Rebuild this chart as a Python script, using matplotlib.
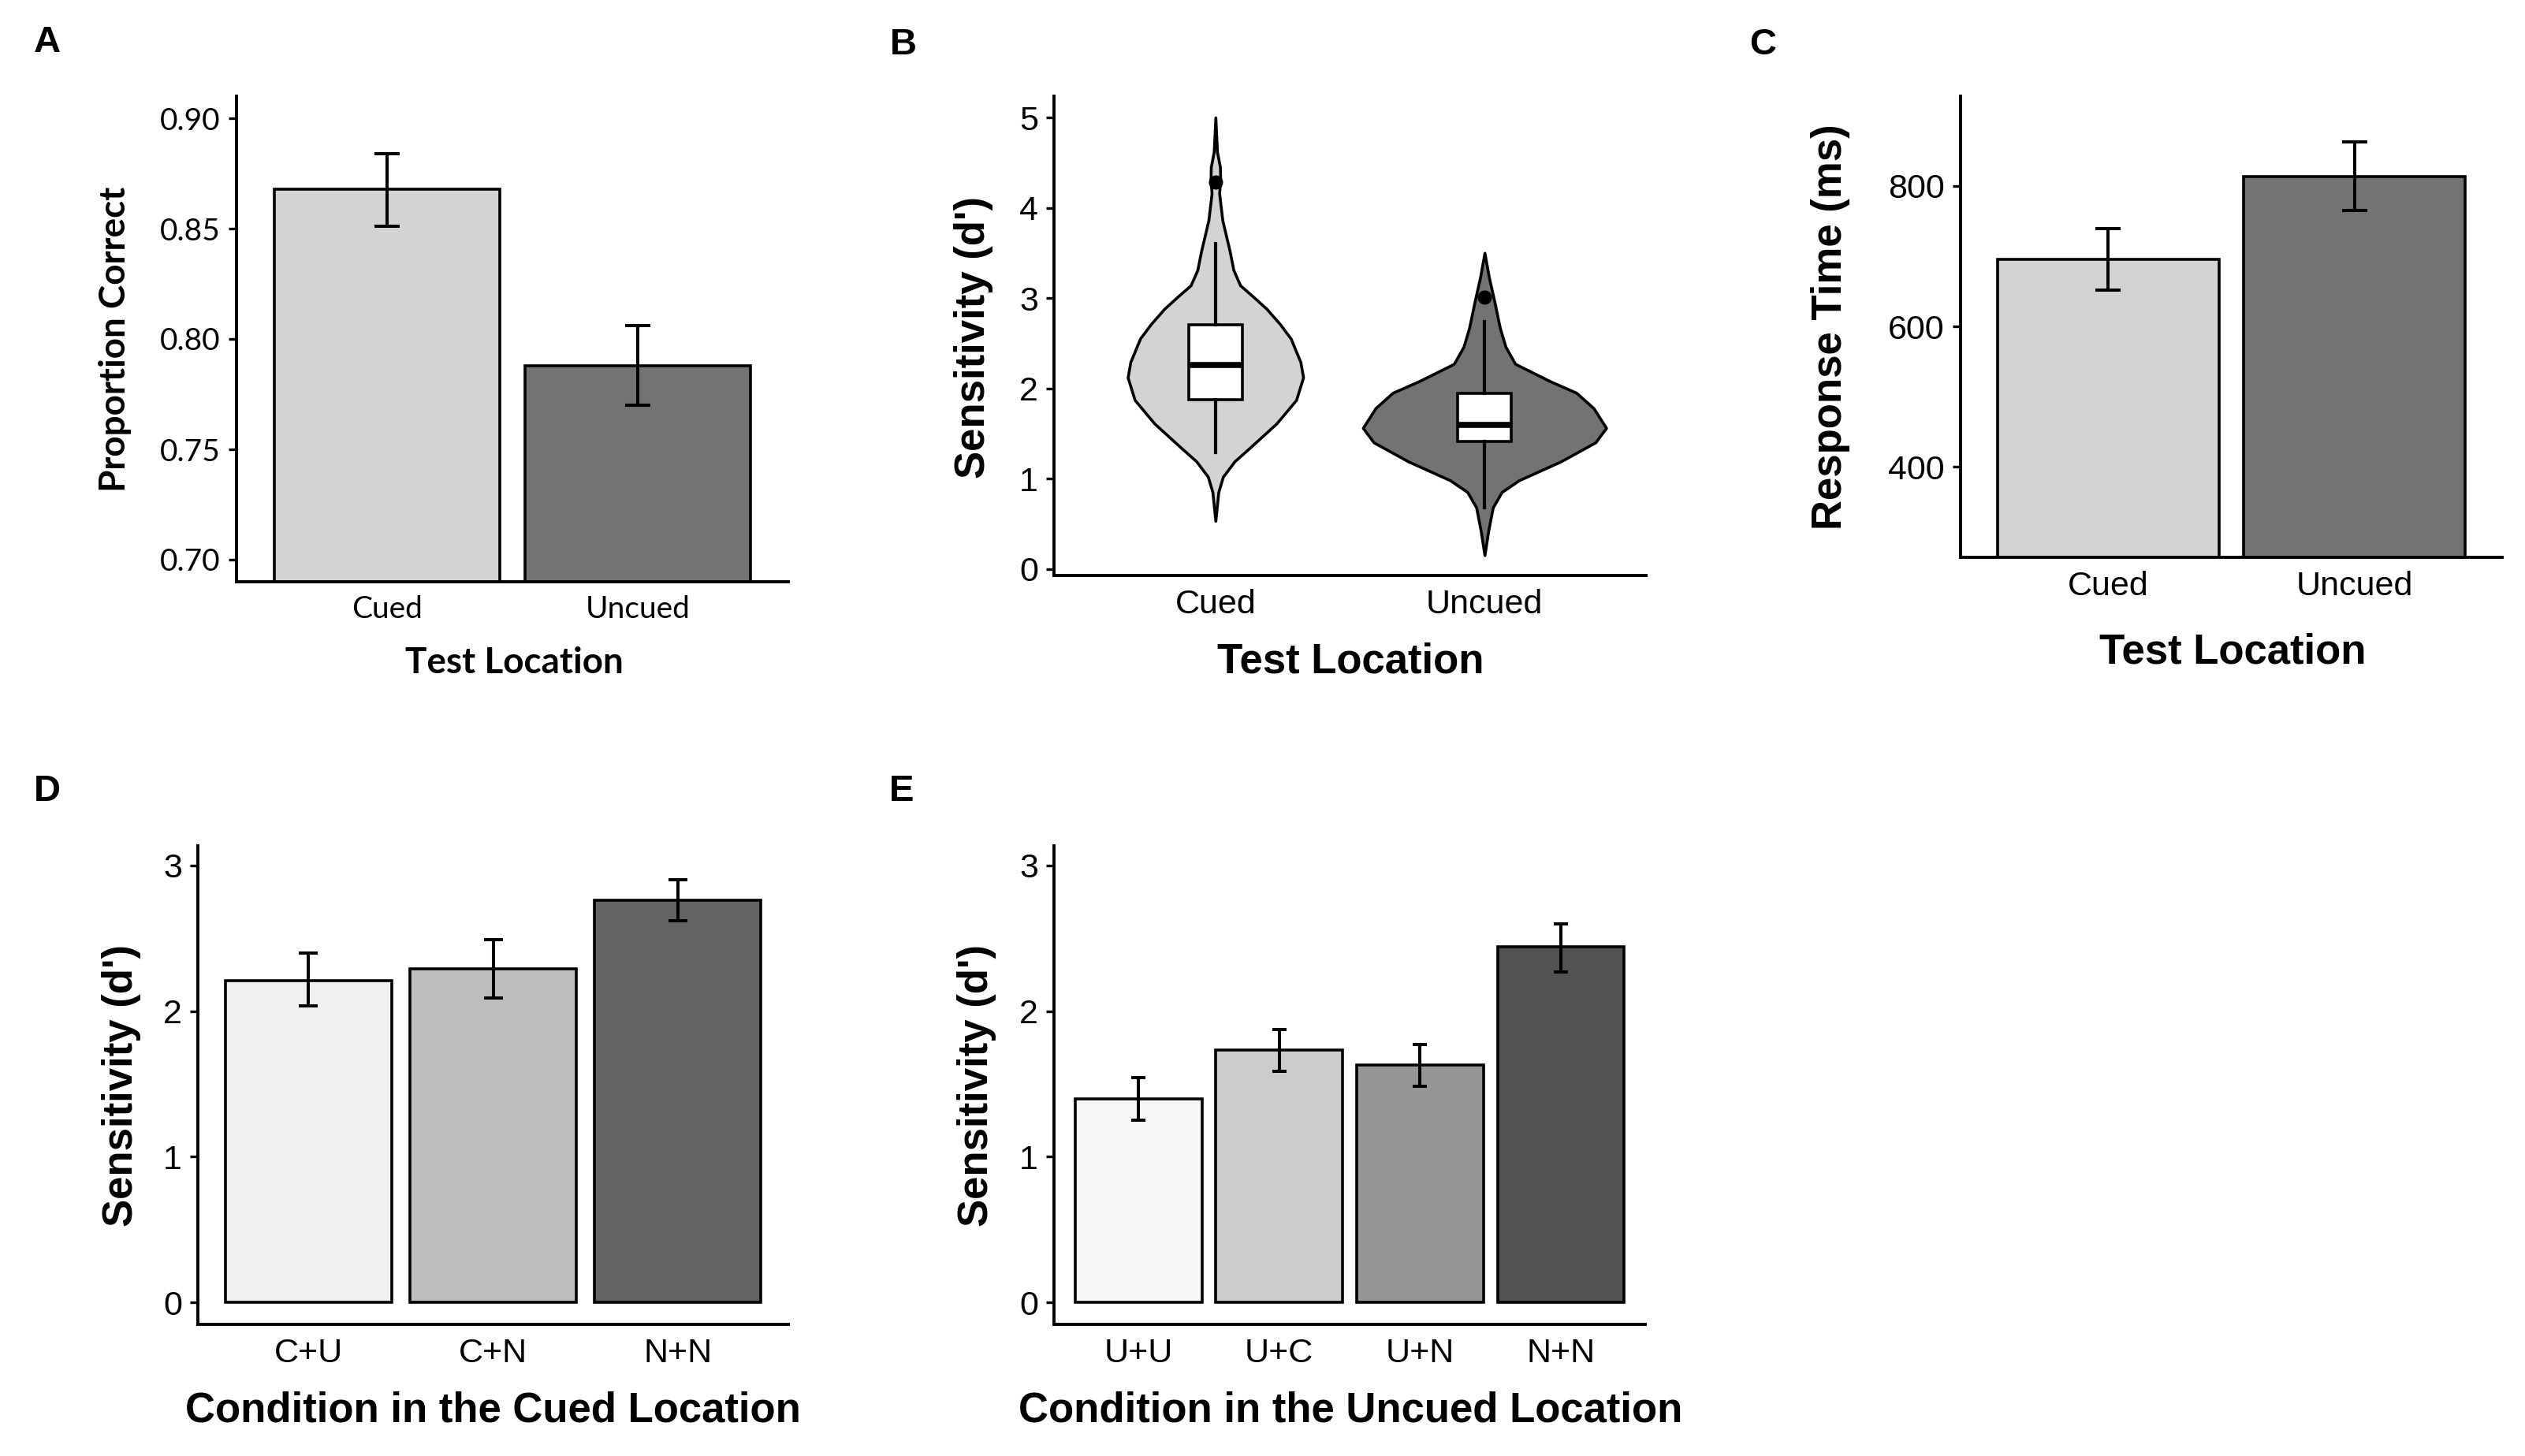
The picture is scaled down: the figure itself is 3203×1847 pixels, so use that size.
import numpy as np
import matplotlib.pyplot as plt

plt.rcParams['font.family'] = ['Liberation Sans', 'DejaVu Sans']

# A: proportion correct by test location
loc_labels = ['Cued', 'Uncued']
acc_mean = [0.868, 0.788]
acc_lo = [0.851, 0.770]
acc_hi = [0.884, 0.806]

# C: response time (ms)
rt_mean = [696, 814]
rt_lo = [652, 765]
rt_hi = [739, 863]

# B: violin outlines (level in d', half width in x units)
cued_vio_y = [0.53, 0.85, 1.02, 1.19, 1.36, 1.61, 1.87, 2.12, 2.29, 2.55, 2.71,
              2.88, 3.01, 3.14, 3.31, 3.52, 3.86, 4.16, 4.30, 4.45, 4.62, 5.00]
cued_vio_w = [0.0, 0.011, 0.028, 0.071, 0.135, 0.227, 0.30, 0.326, 0.316, 0.28, 0.24,
              0.19, 0.142, 0.092, 0.067, 0.053, 0.026, 0.014, 0.018, 0.017, 0.006, 0.0]
uncued_vio_y = [0.15, 0.42, 0.68, 0.85, 0.98, 1.19, 1.40, 1.56, 1.78, 1.95, 2.08,
                2.27, 2.46, 2.67, 2.97, 3.22, 3.50]
uncued_vio_w = [0.0, 0.014, 0.031, 0.064, 0.128, 0.284, 0.412, 0.452, 0.405, 0.341, 0.242,
                0.114, 0.078, 0.057, 0.036, 0.017, 0.0]

# B: box plot summaries
cued_box = dict(whislo=1.29, q1=1.875, med=2.256, q3=2.706, whishi=3.605, fliers=[4.28])
uncued_box = dict(whislo=0.68, q1=1.41, med=1.59, q3=1.94, whishi=2.736, fliers=[3.01])

# D: sensitivity by condition in the cued location
cued_labels = ['C+U', 'C+N', 'N+N']
cued_mean = [2.21, 2.29, 2.76]
cued_lo = [2.035, 2.09, 2.62]
cued_hi = [2.40, 2.49, 2.90]

# E: sensitivity by condition in the uncued location
uncued_labels = ['U+U', 'U+C', 'U+N', 'N+N']
uncued_mean = [1.40, 1.73, 1.63, 2.44]
uncued_lo = [1.25, 1.587, 1.485, 2.27]
uncued_hi = [1.545, 1.875, 1.77, 2.60]

two_greys = ['#D3D3D3', '#737373']
three_greys = ['#F0F0F0', '#BDBDBD', '#636363']
four_greys = ['#F7F7F7', '#CCCCCC', '#969696', '#525252']

W, H = 3203, 1847
fig = plt.figure(figsize=(W / 100, H / 100), dpi=100)

TICK_PT = 31
TITLE_PT = 38
LW = 2.6


def px_axes(left, top, right, bottom):
    return fig.add_axes([left / W, 1 - bottom / H, (right - left) / W, (bottom - top) / H])


def style(ax, family, tick_pt):
    for s in ['top', 'right']:
        ax.spines[s].set_visible(False)
    for s in ['left', 'bottom']:
        ax.spines[s].set_linewidth(2.8)
    ax.tick_params(axis='y', length=7.5, width=2.4, pad=7, labelsize=tick_pt)
    ax.tick_params(axis='x', length=0, pad=12, labelsize=tick_pt)
    for lab in ax.get_xticklabels() + ax.get_yticklabels():
        lab.set_family(family)


def bar_panel(ax, labels, mean, lo, hi, colors, ylim, yticks, ytick_labels):
    x = np.arange(1, len(labels) + 1)
    ax.bar(x, mean, width=0.9, color=colors, edgecolor='black', linewidth=LW)
    xmin, xmax = 0.4, len(labels) + 0.6
    ax.set_xlim(xmin, xmax)
    ax.set_ylim(*ylim)
    w_px = ax.get_position().width * W
    # matplotlib draws caps 2 * capsize long; caps span 0.1 x units
    cap = 0.05 * w_px / (xmax - xmin) * 72 / 100
    yerr = [np.array(mean) - np.array(lo), np.array(hi) - np.array(mean)]
    ax.errorbar(x, mean, yerr=yerr, fmt='none', ecolor='black', elinewidth=2.9,
                capsize=cap, capthick=2.9)
    ax.set_xticks(x)
    ax.set_xticklabels(labels)
    ax.set_yticks(yticks)
    ax.set_yticklabels(ytick_labels)


# ---- A ----
axA = px_axes(300, 122, 1000, 738)
bar_panel(axA, loc_labels, acc_mean, acc_lo, acc_hi, two_greys, (0.69, 0.91),
          [0.70, 0.75, 0.80, 0.85, 0.90], ['0.70', '0.75', '0.80', '0.85', '0.90'])
style(axA, 'Lato', 28)
fig.text(652, H - 841, 'Test Location', transform=None, ha='center', va='center',
         fontsize=33, fontweight='bold', family='Lato')
fig.text(146, H - 430, 'Proportion Correct', transform=None, ha='center', va='center',
         rotation=90, fontsize=33, fontweight='bold', family='Lato')

# ---- B ----
axB = px_axes(1337, 122, 2088, 730)
for i, (vy, vw, col, st) in enumerate([(cued_vio_y, cued_vio_w, two_greys[0], cued_box),
                                       (uncued_vio_y, uncued_vio_w, two_greys[1], uncued_box)]):
    xc = i + 1
    vy = np.array(vy)
    vw = np.array(vw)
    axB.fill_betweenx(vy, xc - vw, xc + vw, facecolor=col, edgecolor='black',
                      linewidth=LW, zorder=2)
    axB.bxp([st], positions=[xc], widths=0.2, patch_artist=True, showcaps=False,
            boxprops=dict(facecolor='white', edgecolor='black', linewidth=LW),
            whiskerprops=dict(color='black', linewidth=3),
            medianprops=dict(color='black', linewidth=5.5),
            flierprops=dict(marker='o', markerfacecolor='black', markeredgecolor='black',
                            markersize=12), zorder=3)
axB.set_xlim(0.4, 2.6)
axB.set_ylim(-0.074, 5.236)
axB.set_xticks([1, 2])
axB.set_xticklabels(loc_labels)
axB.set_yticks([0, 1, 2, 3, 4, 5])
axB.set_yticklabels(['0', '1', '2', '3', '4', '5'])
style(axB, 'Liberation Sans', TICK_PT)
fig.text(1713, H - 840, 'Test Location', transform=None, ha='center', va='center',
         fontsize=TITLE_PT, fontweight='bold')
fig.text(1235, H - 428, "Sensitivity (d')", transform=None, ha='center', va='center',
         rotation=90, fontsize=TITLE_PT, fontweight='bold')

# ---- C ----
axC = px_axes(2487, 122, 3174, 707)
bar_panel(axC, loc_labels, rt_mean, rt_lo, rt_hi, two_greys, (271, 928),
          [400, 600, 800], ['400', '600', '800'])
style(axC, 'Liberation Sans', TICK_PT)
fig.text(2832, H - 827, 'Test Location', transform=None, ha='center', va='center',
         fontsize=TITLE_PT, fontweight='bold')
fig.text(2322, H - 415, 'Response Time (ms)', transform=None, ha='center', va='center',
         rotation=90, fontsize=TITLE_PT, fontweight='bold')

# ---- D ----
axD = px_axes(251, 1073, 1000, 1680)
bar_panel(axD, cued_labels, cued_mean, cued_lo, cued_hi, three_greys, (-0.149, 3.133),
          [0, 1, 2, 3], ['0', '1', '2', '3'])
style(axD, 'Liberation Sans', TICK_PT)
fig.text(625, H - 1790, 'Condition in the Cued Location', transform=None, ha='center',
         va='center', fontsize=TITLE_PT, fontweight='bold')
fig.text(154, H - 1377, "Sensitivity (d')", transform=None, ha='center', va='center',
         rotation=90, fontsize=TITLE_PT, fontweight='bold')

# ---- E ----
axE = px_axes(1337, 1073, 2087, 1680)
bar_panel(axE, uncued_labels, uncued_mean, uncued_lo, uncued_hi, four_greys, (-0.149, 3.133),
          [0, 1, 2, 3], ['0', '1', '2', '3'])
style(axE, 'Liberation Sans', TICK_PT)
fig.text(1713, H - 1790, 'Condition in the Uncued Location', transform=None, ha='center',
         va='center', fontsize=TITLE_PT, fontweight='bold')
fig.text(1239, H - 1377, "Sensitivity (d')", transform=None, ha='center', va='center',
         rotation=90, fontsize=TITLE_PT, fontweight='bold')

# panel letters
for lab, (px, py) in zip('ABCDE', [(60, 54), (1146, 57), (2236, 57), (60, 1004), (1144, 1004)]):
    fig.text(px, H - py, lab, transform=None, ha='center', va='center',
             fontsize=34, fontweight='bold')

fig.savefig('out.png', dpi=100)
